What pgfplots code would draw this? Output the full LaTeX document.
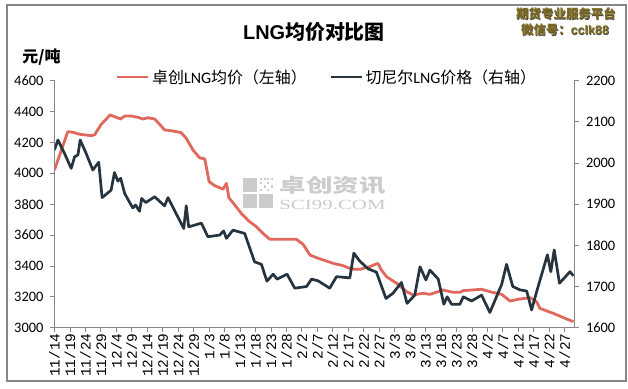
\documentclass[border=0pt]{standalone}
\usepackage{pgfplots}
\pgfplotsset{compat=1.18}
\usepackage{fontspec}
\setmainfont{Carlito}
\newfontfamily\cjk{Noto Sans CJK SC}
\newfontfamily\monof{Liberation Mono}
\newfontfamily\arialf{Liberation Sans}
\newfontfamily\seriff{Liberation Serif}
\definecolor{lnred}{RGB}{224,104,92}
\definecolor{lndark}{RGB}{38,52,64}
\definecolor{axgray}{RGB}{134,134,134}
\definecolor{wmgray}{RGB}{204,204,204}
\definecolor{olive}{RGB}{128,108,30}

\pgfplotstableread{
d v
0 4022
4.3 4270
5.9 4266
8.1 4253
11.9 4244
13 4250
15.1 4317
18 4378
19.4 4367
21.4 4352
22.7 4371
24.8 4371
26.9 4363
28.6 4352
30.2 4360
32.4 4352
34 4317
35.6 4281
37.8 4276
40.9 4264
42.6 4227
44.8 4151
46.9 4101
48.6 4093
50 3946
51.8 3920
54.5 3898
55.6 3935
56.4 3842
58.3 3795
60.4 3741
63.1 3687
65.3 3654
67.4 3611
69.6 3573
73.9 3573
78.2 3573
80.4 3540
82.6 3471
85.2 3450
87.9 3432
90.1 3417
93.3 3402
96 3380
98.7 3378
101.9 3395
104.6 3417
105.7 3374
107.4 3330
110.6 3288
113.9 3233
116 3212
119.2 3223
121.4 3216
125.7 3244
128.9 3229
131.1 3229
132.2 3240
138.1 3249
140.8 3233
144.6 3216
147.3 3173
150.5 3186
153.8 3194
155.9 3168
157 3125
161.3 3093
164.6 3065
167.8 3039
}\redtable

\pgfplotstableread{
d v
0 2032
1.1 2056
3.2 2024
5.4 1987
6.5 2015
7.6 2020
8.3 2056
10.2 2024
12.4 1983
14.3 2002
15.4 1916
18.3 1934
19.4 1977
20.5 1956
21.4 1963
22.7 1926
25.3 1891
26.2 1898
27.5 1883
28.2 1914
29.5 1904
32.4 1918
35.6 1896
36.7 1916
41.8 1841
42.6 1896
43.4 1845
47.5 1854
49.6 1821
53.4 1825
54.7 1835
55.6 1817
57.7 1837
61.5 1829
64.7 1760
66.9 1754
68.7 1713
70.7 1730
72 1718
75.2 1730
77.7 1696
81.5 1700
83.1 1718
85.2 1714
89 1696
91.2 1724
95.5 1721
96.8 1781
98.7 1762
101.4 1743
104.1 1735
107.2 1671
109.5 1684
112.2 1710
114 1659
116.5 1679
118.2 1748
120.1 1716
121.4 1740
124.1 1718
125.9 1657
127 1675
128.4 1657
131.1 1657
132.2 1675
134.9 1665
138.1 1679
140.8 1637
144.6 1705
146.2 1754
148.2 1700
150.5 1692
152.7 1689
154.3 1643
155.9 1687
159.4 1777
160.5 1736
161.6 1789
163.3 1708
166.7 1736
167.8 1726
}\darktable

\pgfplotsset{
  common/.style={
    at={(0,0)}, anchor=south west,
    scale only axis, width=519.5bp, height=247bp,
    xmin=0, xmax=168,
    axis line style={axgray, line width=0.9bp},
    tick style={axgray, line width=0.9bp},
    tick align=outside,
    major tick length=4.5bp,
    /pgf/number format/assume math mode=true,
    /pgf/number format/1000 sep={},
    tick label style={font=\fontsize{14.5}{16}\selectfont, text=black},
  },
}

\begin{document}
\begin{tikzpicture}
\useasboundingbox (-54.5bp,-61.3bp) rectangle (573.5bp,327.7bp);
\fill[white] (-54.5bp,-61.3bp) rectangle (573.5bp,327.7bp);

% watermark centre (behind the lines)
\fill[wmgray] (188.5bp,135.7bp) rectangle (202.5bp,149.7bp);
\fill[wmgray] (188.5bp,119.7bp) rectangle (202.5bp,133.7bp);
\fill[wmgray] (204.5bp,119.7bp) rectangle (218.5bp,133.7bp);
\foreach \i/\j in {0/0,1/1,2/0,0/2,2/2,1/3,3/1,3/3,0/3,2/3}{
  \fill[wmgray] ({205.5bp+\i*3.6bp},{136.5bp+\j*3.6bp}) rectangle ++(2.2bp,2.2bp);
}
\node[text=wmgray, inner sep=0pt, xscale=1.4] at (278bp,142.2bp) {\fontsize{19}{20}\selectfont\cjk\bfseries 卓创资讯};
\node[text=wmgray, inner sep=0pt, xscale=1.5] at (278bp,123.2bp) {\fontsize{14}{15}\selectfont\seriff SCI99.COM};

\begin{axis}[common,
  axis x line*=bottom, axis y line*=left,
  ymin=3000, ymax=4600, ytick={3000,3200,...,4600},
  yticklabel style={xshift=-3bp},
  xtick={0,5,...,165},
  xticklabels={11/14,11/19,11/24,11/29,12/4,12/9,12/14,12/19,12/24,12/29,1/3,1/8,1/13,1/18,1/23,1/28,2/2,2/7,2/12,2/17,2/22,2/27,3/3,3/8,3/13,3/18,3/23,3/28,4/2,4/7,4/12,4/17,4/22,4/27},
  xticklabel style={rotate=90, anchor=east, inner sep=1bp, font=\monof\fontsize{14.5}{16}\selectfont},
]
\addplot[lnred, line width=2.8bp, line join=round] table[x=d, y=v] {\redtable};
\end{axis}

\begin{axis}[common,
  axis y line*=right, axis x line=none,
  ymin=1600, ymax=2200, ytick={1600,1700,...,2200},
  yticklabel style={xshift=4bp},
  legend style={at={(0.525,1.015)}, anchor=center, draw=none, fill=none,
    font=\fontsize{16}{18}\selectfont, legend columns=2,
    /tikz/every even column/.append style={column sep=20bp},
    nodes={inner sep=2.5bp}},
  legend image code/.code={\draw[#1] (0bp,0bp) -- (31bp,0bp);},
]
\addlegendimage{lnred, line width=2.8bp}
\addlegendentry{{\cjk 卓创}LNG{\cjk 均价（左轴）}}
\addplot[lndark, line width=2.7bp, line join=round] table[x=d, y=v] {\darktable};
\addlegendentry{{\cjk 切尼尔}LNG{\cjk 价格（右轴）}}
\end{axis}

% title and unit
\node at (259.5bp,295.7bp) {\fontsize{20}{22}\selectfont{\arialf\bfseries LNG}{\cjk\bfseries 均价对比图}};
\node at (-13bp,270.7bp) {\fontsize{16}{18}\selectfont\cjk\bfseries 元/吨};

% watermark top right
\node[text=black!70] at (512.1bp,313.1bp) {\fontsize{12.5}{14}\selectfont\cjk\bfseries 期货专业服务平台};
\node[text=olive] at (511.5bp,313.7bp) {\fontsize{12.5}{14}\selectfont\cjk\bfseries 期货专业服务平台};
\node[text=black!70] at (511.1bp,297.1bp) {\fontsize{12.5}{14}\selectfont\cjk\bfseries 微信号：\arialf cclk88};
\node[text=olive] at (510.5bp,297.7bp) {\fontsize{12.5}{14}\selectfont\cjk\bfseries 微信号：\arialf cclk88};

% frame
\draw[axgray, line width=1.3bp] (-47.5bp,-53.3bp) rectangle (571.5bp,322.7bp);
\end{tikzpicture}
\end{document}
